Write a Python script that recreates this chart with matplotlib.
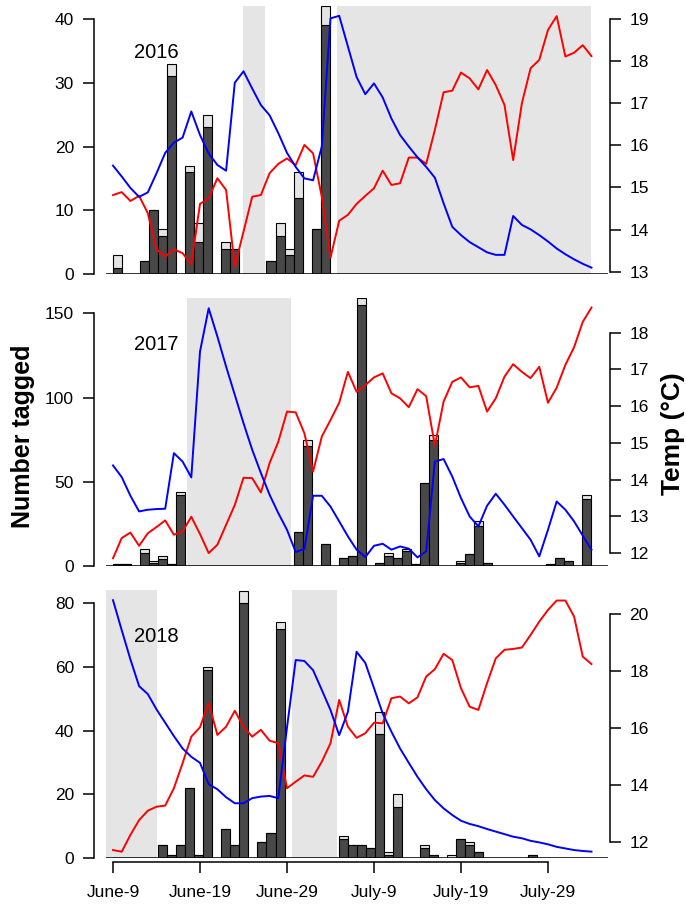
import numpy as np
import matplotlib.pyplot as plt

plt.rcParams['font.family'] = ['Liberation Sans', 'DejaVu Sans']

"""
Data: daily tagging counts (dark = tagged, light = extra on top),
water temperature and relative flow, June 9 - Aug 3
"""

days = np.arange(56)  # days since June 9
tick_days = [0, 10, 20, 30, 40, 50]
tick_labels = ["June-9", "June-19", "June-29", "July-9", "July-19", "July-29"]

tagged_2016 = [1, 0, 0, 2, 10, 6, 31, 0, 16, 5,
               23, 0, 4, 4, 0, 0, 0, 2, 6, 3,
               12, 0, 7, 39, 0, 0, 0, 0, 0, 0,
               0, 0, 0, 0, 0, 0, 0, 0, 0, 0,
               0, 0, 0, 0, 0, 0, 0, 0, 0, 0,
               0, 0, 0]
total_2016 = [3, 0, 0, 2, 10, 7, 33, 0, 17, 8,
              25, 0, 5, 4, 0, 0, 0, 2, 8, 4,
              16, 0, 7, 42, 0, 0, 0, 0, 0, 0,
              0, 0, 0, 0, 0, 0, 0, 0, 0, 0,
              0, 0, 0, 0, 0, 0, 0, 0, 0, 0,
              0, 0, 0]
temp_2016 = [14.82, 14.89, 14.68, 14.80, 14.39, 13.53, 13.36, 13.53, 13.44, 13.18,
             14.61, 14.74, 15.22, 14.94, 13.12, 13.95, 14.78, 14.82, 15.34, 15.56,
             15.69, 15.53, 16.01, 15.81, 14.78, 13.33, 14.21, 14.35, 14.61, 14.80,
             14.98, 15.40, 15.06, 15.10, 15.71, 15.71, 15.56, 16.37, 17.26, 17.30,
             17.73, 17.59, 17.33, 17.79, 17.43, 16.96, 15.65, 17.00, 17.83, 18.03,
             18.74, 19.07, 18.11, 18.20, 18.38, 18.12]
flow_2016 = [17.0, 15.3, 13.5, 12.1, 12.8, 15.8, 19.0, 20.6, 21.4, 25.5,
             21.8, 18.9, 17.1, 16.2, 30.0, 31.8, 29.1, 26.5, 24.9, 22.1,
             19.0, 16.8, 15.0, 14.7, 20.0, 40.1, 40.5, 35.7, 30.9, 28.2,
             29.9, 27.7, 24.4, 21.8, 20.0, 18.3, 16.8, 15.1, 11.1, 7.4,
             6.1, 5.0, 4.2, 3.4, 3.0, 3.0, 9.1, 7.7, 7.0, 6.1,
             5.1, 4.0, 3.1, 2.3, 1.6, 1.0]
shade_2016 = [(15.0, 17.5), (25.7, 55.0)]

tagged_2017 = [1, 1, 0, 8, 2, 4, 1, 42, 0, 0,
               0, 0, 0, 0, 0, 0, 0, 0, 0, 0,
               20, 71, 0, 13, 0, 5, 6, 155, 0, 2,
               6, 5, 9, 1, 49, 75, 0, 0, 2, 7,
               24, 2, 0, 0, 0, 0, 0, 0, 1, 5,
               3, 0, 40]
total_2017 = [1, 1, 0, 10, 3, 6, 1, 44, 0, 0,
              0, 0, 0, 0, 0, 0, 0, 0, 0, 0,
              20, 75, 0, 13, 0, 5, 6, 159, 0, 2,
              8, 5, 10, 1, 49, 78, 0, 0, 3, 7,
              27, 2, 0, 0, 0, 0, 0, 0, 1, 5,
              3, 0, 42]
temp_2017 = [11.86, 12.41, 12.56, 12.20, 12.54, 12.71, 12.89, 12.50, 12.59, 12.99,
             12.52, 12.00, 12.23, 12.77, 13.31, 14.05, 14.04, 13.65, 14.45, 15.03,
             15.85, 15.83, 15.26, 14.22, 15.17, 15.62, 16.09, 16.93, 16.39, 16.57,
             16.78, 16.89, 16.35, 16.21, 15.97, 16.46, 16.27, 14.92, 16.12, 16.66,
             16.78, 16.51, 16.55, 15.85, 16.21, 16.80, 17.14, 16.93, 16.76, 17.07,
             16.09, 16.50, 17.12, 17.60, 18.29, 18.68]
flow_2017 = [59.7, 52.8, 41.7, 32.4, 33.4, 33.8, 34.0, 67.0, 62.0, 52.6,
             127.3, 153.0, 136.2, 118.4, 101.6, 84.8, 69.0, 55.2, 42.3, 31.4,
             21.5, 8.3, 10.1, 41.7, 41.7, 35.3, 26.5, 17.6, 9.7, 5.3,
             12.0, 13.2, 9.7, 11.6, 10.3, 5.1, 8.7, 62.0, 63.5, 53.1,
             40.3, 29.4, 23.5, 35.8, 42.9, 36.4, 29.4, 22.5, 15.6, 5.7,
             21.5, 38.3, 33.4, 26.5, 18.0, 9.7]
shade_2017 = [(8.5, 20.5)]

tagged_2018 = [0, 0, 0, 0, 0, 4, 1, 4, 22, 1,
               59, 0, 9, 4, 80, 0, 5, 8, 72, 0,
               0, 0, 0, 0, 0, 6, 4, 4, 3, 39,
               1, 16, 0, 0, 3, 1, 0, 0, 6, 4,
               2, 0, 0, 0, 0, 0, 1, 0, 0, 0,
               0, 0, 0]
total_2018 = [0, 0, 0, 0, 0, 4, 1, 4, 22, 1,
              60, 0, 9, 4, 84, 0, 5, 8, 74, 0,
              0, 0, 0, 0, 0, 7, 4, 4, 3, 46,
              2, 20, 0, 0, 4, 1, 0, 1, 6, 5,
              2, 0, 0, 0, 0, 0, 1, 0, 0, 0,
              0, 0, 0]
temp_2018 = [11.72, 11.66, 12.25, 12.77, 13.10, 13.24, 13.28, 13.89, 14.77, 15.70,
             16.03, 16.89, 15.76, 16.05, 16.61, 16.05, 15.70, 15.94, 15.56, 15.47,
             13.89, 14.12, 14.34, 14.29, 14.82, 15.47, 16.99, 16.05, 15.66, 15.82,
             16.19, 16.17, 17.05, 17.11, 16.87, 17.08, 17.81, 18.07, 18.61, 18.39,
             17.40, 16.75, 16.64, 17.58, 18.45, 18.75, 18.78, 18.83, 19.27, 19.74,
             20.15, 20.48, 20.48, 19.92, 18.51, 18.25]
flow_2018 = [81.0, 71.6, 62.4, 54.0, 51.5, 46.7, 42.5, 38.3, 34.4, 31.8,
             29.9, 23.2, 21.6, 19.1, 17.2, 17.2, 18.8, 19.3, 19.5, 18.8,
             41.0, 62.2, 61.9, 59.0, 52.8, 46.5, 38.6, 45.9, 64.8, 61.3,
             53.4, 45.4, 39.7, 34.4, 29.9, 25.5, 21.6, 18.2, 15.6, 13.5,
             11.7, 10.7, 10.0, 9.1, 8.3, 7.5, 6.7, 6.2, 5.4, 4.9,
             4.3, 3.5, 3.0, 2.5, 2.2, 2.0]
shade_2018 = [(-1.0, 5.0), (20.6, 25.7)]

DARK = "#484848"
LIGHT = "#e4e4e4"
SHADE = "#e5e5e5"

W, H = 686, 907
XLIM = (-0.805, 56.9)


def panel(top_px, year, tagged, total, temp, flow, shade,
          nticks, tticks, ylim, tlim, bottom_axis=False):
    ax = fig.add_axes([106 / W, (H - top_px - 268) / H, 502 / W, 268 / H])
    ax.set_xlim(*XLIM)
    ax.set_ylim(*ylim)

    for s, e in shade:
        ax.axvspan(s, e, color=SHADE, lw=0, zorder=0)

    # bars spread evenly over the sampled date range
    tagged = np.asarray(tagged, float)
    total = np.asarray(total, float)
    nb = len(tagged)
    bw = days[-1] / nb
    bx = bw * (np.arange(nb) + 0.5)
    ax.bar(bx, tagged, width=bw, color=DARK, edgecolor="black", lw=0.8, zorder=2)
    ax.bar(bx, total - tagged, bottom=tagged, width=bw, color=LIGHT,
           edgecolor="black", lw=0.8, zorder=2)
    ax.axhline(0, color="black", lw=1.1, zorder=3)

    for side in ("top", "right"):
        ax.spines[side].set_visible(False)
    ax.spines["left"].set_position(("outward", 9))
    ax.spines["left"].set_bounds(nticks[0], nticks[-1])
    ax.spines["left"].set_linewidth(1.1)
    ax.set_yticks(nticks)
    ax.tick_params(axis="y", length=8, width=1.1, labelsize=12.5, pad=6)

    if bottom_axis:
        ax.spines["bottom"].set_position(("outward", 2.6))
        ax.spines["bottom"].set_bounds(tick_days[0], tick_days[-1])
        ax.spines["bottom"].set_linewidth(1.1)
        ax.set_xticks(tick_days)
        ax.set_xticklabels(tick_labels)
        ax.tick_params(axis="x", length=8, width=1.1, labelsize=12.5, pad=9)
    else:
        ax.spines["bottom"].set_visible(False)
        ax.set_xticks([])

    ax.text(0.101, 0.828, year, transform=ax.transAxes, fontsize=14.5,
            ha="center", va="center")

    tw = ax.twinx()
    tw.set_ylim(*tlim)
    tw.plot(days, temp, color="red", lw=1.4)
    for side in ("top", "left", "bottom"):
        tw.spines[side].set_visible(False)
    tw.spines["right"].set_position(("outward", 1.4))
    tw.spines["right"].set_bounds(tticks[0], tticks[-1])
    tw.spines["right"].set_linewidth(1.1)
    tw.set_yticks(tticks)
    tw.tick_params(axis="y", length=8, width=1.1, labelsize=12.5, pad=6)

    fl = ax.twinx()
    fl.set_ylim(*ylim)
    fl.plot(days, flow, color="blue", lw=1.4)
    fl.axis("off")
    return ax


fig = plt.figure(figsize=(W / 100, H / 100), dpi=100)

panel(6, "2016", tagged_2016, total_2016, temp_2016, flow_2016, shade_2016,
      [0, 10, 20, 30, 40], [13, 14, 15, 16, 17, 18, 19], (0, 42.04), (12.945, 19.31))
panel(298, "2017", tagged_2017, total_2017, temp_2017, flow_2017, shade_2017,
      [0, 50, 100, 150], [12, 13, 14, 15, 16, 17, 18], (0, 159.1), (11.65, 18.94))
panel(590, "2018", tagged_2018, total_2018, temp_2018, flow_2018, shade_2018,
      [0, 20, 40, 60, 80], [12, 14, 16, 18, 20], (0, 84.2), (11.44, 20.85),
      bottom_axis=True)

fig.text(23 / W, 1 - 436.5 / H, "Number tagged", rotation=90, fontsize=18,
         fontweight="bold", ha="center", va="center")
fig.text(673 / W, 1 - 434 / H, "Temp (°C)", rotation=90, fontsize=19,
         fontweight="bold", ha="center", va="center")

fig.savefig("out.png", dpi=100)
